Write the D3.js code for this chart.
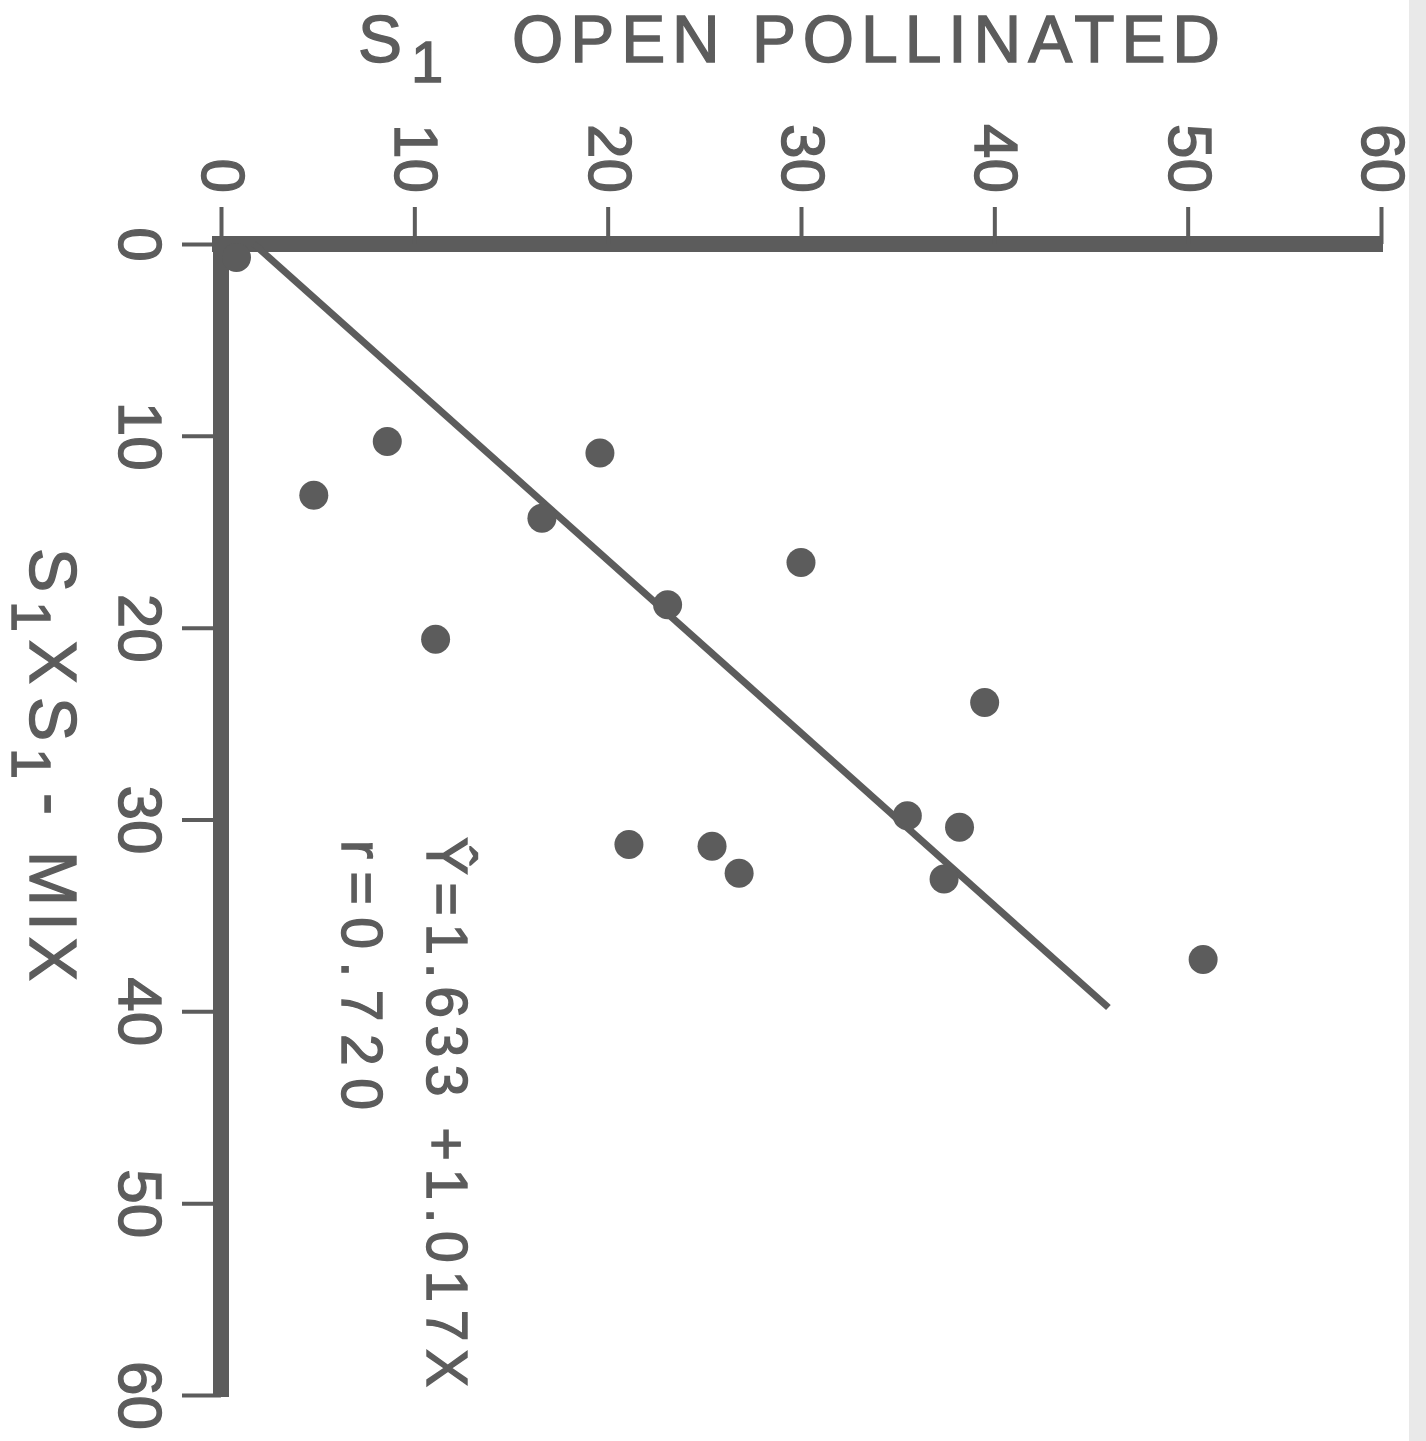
<!DOCTYPE html>
<html>
<head>
<meta charset="utf-8">
<script src="https://cdn.jsdelivr.net/npm/d3@7"></script>
<style>
  html, body { margin: 0; padding: 0; background: #fff; }
  svg { display: block; }
  text { font-family: "Liberation Sans", Arial, sans-serif; fill: #5c5c5c; stroke: #5c5c5c; stroke-width: 1.4px; }
</style>
</head>
<body>
<div id="chart-container"></div>
<script>
// S1 open pollinated (horizontal, top) vs S1 x S1-MIX (vertical, left)
const openPollinated = [0.8, 8.6, 4.8, 19.6, 16.6, 23.1, 11.1, 30.0, 39.5, 35.5, 38.2, 21.1, 25.4, 26.8, 37.4, 50.8];
const s1Mix = [0.7, 10.3, 13.1, 10.9, 14.3, 18.8, 20.6, 16.6, 23.9, 29.8, 30.4, 31.3, 31.4, 32.8, 33.1, 37.3];
const tickValues = [0, 10, 20, 30, 40, 50, 60];
// fitted line as drawn: [mix, open pollinated]
const fitLine = [[0, 1.7], [39.8, 45.9]];
const equationText = 'Ŷ=1.633 +1.017X';
const rText = 'r=0.720';

const width = 1426, height = 1441;
const ink = '#5c5c5c';

const svg = d3.select('#chart-container')
  .append('svg')
  .attr('width', width)
  .attr('height', height);

svg.append('rect').attr('width', width).attr('height', height).attr('fill', '#fff');
// scan edge on the right
svg.append('rect').attr('x', 1409).attr('y', 0).attr('width', 17).attr('height', height).attr('fill', '#e9e9e9');

const x = d3.scaleLinear().domain([0, 60]).range([221, 1381]);
const y = d3.scaleLinear().domain([0, 60]).range([244, 1395]);

// top axis (open pollinated)
const topAxis = svg.append('g')
  .attr('transform', `translate(0,${y(0)})`)
  .call(d3.axisTop(x).tickValues(tickValues).tickSize(37).tickSizeOuter(0).tickFormat(d3.format('d')));

topAxis.select('.domain')
  .attr('d', `M${x(0) - 9},0H${x(60) + 2}`)
  .attr('stroke', ink)
  .attr('stroke-width', 16);
topAxis.selectAll('.tick line').attr('stroke', ink).attr('stroke-width', 4);
topAxis.selectAll('.tick text')
  .attr('x', 0).attr('y', 0).attr('dy', null)
  .attr('transform', 'translate(2,-51) rotate(90)')
  .attr('text-anchor', 'end')
  .attr('dominant-baseline', 'central')
  .attr('font-family', null)
  .attr('font-size', 62)
  .attr('fill', ink);

// left axis (S1 x S1-MIX)
const leftAxis = svg.append('g')
  .attr('transform', `translate(${x(0)},0)`)
  .call(d3.axisLeft(y).tickValues(tickValues).tickSize(39).tickSizeOuter(0).tickFormat(d3.format('d')));

leftAxis.select('.domain')
  .attr('d', `M0,${y(0) - 8}V${y(60) + 2}`)
  .attr('stroke', ink)
  .attr('stroke-width', 16);
leftAxis.selectAll('.tick line').attr('stroke', ink).attr('stroke-width', 4);
leftAxis.selectAll('.tick text')
  .attr('x', 0).attr('y', 0).attr('dy', null)
  .attr('transform', 'translate(-81,0) rotate(90)')
  .attr('text-anchor', 'middle')
  .attr('dominant-baseline', 'central')
  .attr('font-family', null)
  .attr('font-size', 62)
  .attr('fill', ink);

// fitted line
svg.append('line')
  .attr('x1', x(fitLine[0][1])).attr('y1', y(fitLine[0][0]))
  .attr('x2', x(fitLine[1][1])).attr('y2', y(fitLine[1][0]))
  .attr('stroke', ink)
  .attr('stroke-width', 7);

// points
svg.selectAll('circle.pt')
  .data(openPollinated.map((d, i) => ({ op: d, mix: s1Mix[i] })))
  .enter()
  .append('circle')
  .attr('class', 'pt')
  .attr('cx', d => x(d.op))
  .attr('cy', d => y(d.mix))
  .attr('r', 14.5)
  .attr('fill', ink);

// top title
const topTitle = svg.append('text').attr('y', 62).attr('font-size', 66);
topTitle.append('tspan').attr('x', 358).text('S');
topTitle.append('tspan').attr('x', 411).attr('dy', 20).attr('font-size', 58).text('1');
topTitle.append('tspan').attr('x', 512).attr('dy', -20).attr('textLength', 708).attr('lengthAdjust', 'spacing').text('OPEN POLLINATED');

// left title, rotated
const leftTitle = svg.append('text')
  .attr('transform', 'translate(30,548) rotate(90)')
  .attr('font-size', 66);
leftTitle.append('tspan').attr('x', 0).text('S');
leftTitle.append('tspan').attr('x', 53).attr('dy', 18).attr('font-size', 56).text('1');
leftTitle.append('tspan').attr('x', 92).attr('dy', -18).text('X');
leftTitle.append('tspan').attr('x', 149).text('S');
leftTitle.append('tspan').attr('x', 200).attr('dy', 18).attr('font-size', 56).text('1');
leftTitle.append('tspan').attr('x', 245).attr('dy', -18).text('-');
leftTitle.append('tspan').attr('x', 303).attr('textLength', 130).attr('lengthAdjust', 'spacing').text('MIX');

// regression annotation
svg.append('text')
  .attr('transform', 'translate(427,837) rotate(90)')
  .attr('font-size', 57)
  .attr('textLength', 550)
  .attr('lengthAdjust', 'spacing')
  .text(equationText);

svg.append('text')
  .attr('transform', 'translate(342,840) rotate(90)')
  .attr('font-size', 57)
  .attr('textLength', 270)
  .attr('lengthAdjust', 'spacing')
  .text(rText);
</script>
</body>
</html>
